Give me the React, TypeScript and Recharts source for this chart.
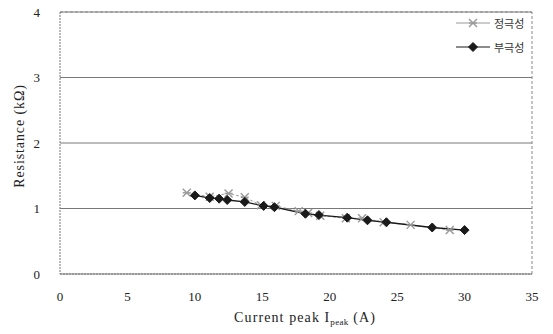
import { CartesianGrid, Line, LineChart, ReferenceLine, XAxis, YAxis } from 'recharts'

interface Point {
  current: number
  resistance: number
}

// 정극성 (gray crosses)
const positiveCurrent = [9.4, 11.1, 12.5, 13.7, 14.9, 16.0, 17.7, 18.4, 19.3, 21.2, 22.4, 24.0, 26.0, 28.9]
const positiveResistance = [1.24, 1.18, 1.23, 1.17, 1.05, 1.04, 0.96, 0.93, 0.89, 0.85, 0.85, 0.79, 0.75, 0.67]

// 부극성 (black diamonds)
const negativeCurrent = [10.0, 11.1, 11.8, 12.4, 13.7, 15.1, 15.9, 18.2, 19.2, 21.3, 22.8, 24.2, 27.6, 30.0]
const negativeResistance = [1.2, 1.16, 1.15, 1.13, 1.1, 1.04, 1.02, 0.92, 0.9, 0.86, 0.82, 0.79, 0.71, 0.67]

const xTicks = [0, 5, 10, 15, 20, 25, 30, 35]
const yTicks = [0, 1, 2, 3, 4]

const toPoints = (xs: number[], ys: number[]): Point[] => xs.map((x, i) => ({ current: x, resistance: ys[i] }))

const positiveData = toPoints(positiveCurrent, positiveResistance)
const negativeData = toPoints(negativeCurrent, negativeResistance)

const FONT = '"Liberation Serif", "Times New Roman", serif'

function CrossDot(props: any) {
  const { cx, cy } = props
  if (cx == null || cy == null) return null
  const r = 4
  return (
    <g stroke="#9a9a9a" strokeWidth={1.4}>
      <line x1={cx - r} y1={cy - r} x2={cx + r} y2={cy + r} />
      <line x1={cx - r} y1={cy + r} x2={cx + r} y2={cy - r} />
      <line x1={cx - r} y1={cy} x2={cx + r} y2={cy} />
    </g>
  )
}

function DiamondDot(props: any) {
  const { cx, cy } = props
  if (cx == null || cy == null) return null
  const r = 4.5
  return <polygon points={`${cx},${cy - r} ${cx + r},${cy} ${cx},${cy + r} ${cx - r},${cy}`} fill="#1a1a1a" stroke="#1a1a1a" />
}

function LegendBox() {
  const rows = [
    { label: '정극성', kind: 'cross' },
    { label: '부극성', kind: 'diamond' },
  ]
  return (
    <div
      style={{
        position: 'absolute',
        left: 456,
        top: 11,
        fontFamily: '"Noto Sans CJK KR", sans-serif',
        fontSize: 11,
        color: '#333',
      }}
    >
      {rows.map((row) => (
        <div key={row.label} style={{ display: 'flex', alignItems: 'center', height: 24 }}>
          <svg width={34} height={12}>
            <line x1={0} y1={6} x2={34} y2={6} stroke={row.kind === 'cross' ? '#9a9a9a' : '#1a1a1a'} strokeWidth={1.2} />
            {row.kind === 'cross' ? <CrossDot cx={17} cy={6} /> : <DiamondDot cx={17} cy={6} />}
          </svg>
          <span style={{ marginLeft: 4 }}>{row.label}</span>
        </div>
      ))}
    </div>
  )
}

function XLabel() {
  return (
    <text x={305} y={322} textAnchor="middle" fontFamily={FONT} fontSize={14} letterSpacing={1.1} fill="#222">
      Current peak I
      <tspan fontSize={9} dy={3} letterSpacing={0.3}>peak</tspan>
      <tspan dy={-3}> (A)</tspan>
    </text>
  )
}

function YLabel() {
  return (
    <text
      x={24}
      y={136}
      transform="rotate(-90 24 136)"
      textAnchor="middle"
      fontFamily={FONT}
      fontSize={14}
      letterSpacing={0.9}
      fill="#222"
    >
      Resistance (kΩ)
    </text>
  )
}

export default function App() {
  return (
    <div style={{ position: 'absolute', left: 0, top: 0, width: 553, height: 334, background: '#fff' }}>
      <LineChart width={553} height={334} margin={{ top: 12, right: 21, bottom: 15, left: 29 }}>
        <CartesianGrid horizontal vertical={false} stroke="#555" strokeWidth={0.8} />
        <XAxis
          type="number"
          dataKey="current"
          domain={[0, 35]}
          ticks={xTicks}
          tickLine={false}
          axisLine={{ stroke: '#777', strokeDasharray: '2 1' }}
          tick={{ fontFamily: FONT, fontSize: 13, fill: '#222' }}
          tickMargin={12}
          height={45}
          label={<XLabel />}
        />
        <YAxis
          type="number"
          domain={[0, 4]}
          ticks={yTicks}
          tickLine={false}
          axisLine={{ stroke: '#777', strokeDasharray: '2 1' }}
          tick={{ fontFamily: FONT, fontSize: 13, fill: '#222' }}
          tickMargin={14}
          width={31}
          label={<YLabel />}
        />
        <ReferenceLine y={4} stroke="#888" strokeDasharray="3 2" />
        <ReferenceLine x={35} stroke="#888" strokeDasharray="3 2" />
        <Line
          data={positiveData}
          dataKey="resistance"
          name="정극성"
          stroke="#a0a0a0"
          strokeWidth={1}
          strokeDasharray="3 2"
          dot={<CrossDot />}
          activeDot={false}
          isAnimationActive={false}
        />
        <Line
          data={negativeData}
          dataKey="resistance"
          name="부극성"
          stroke="#1a1a1a"
          strokeWidth={1.3}
          dot={<DiamondDot />}
          activeDot={false}
          isAnimationActive={false}
        />
      </LineChart>
      <LegendBox />
    </div>
  )
}
